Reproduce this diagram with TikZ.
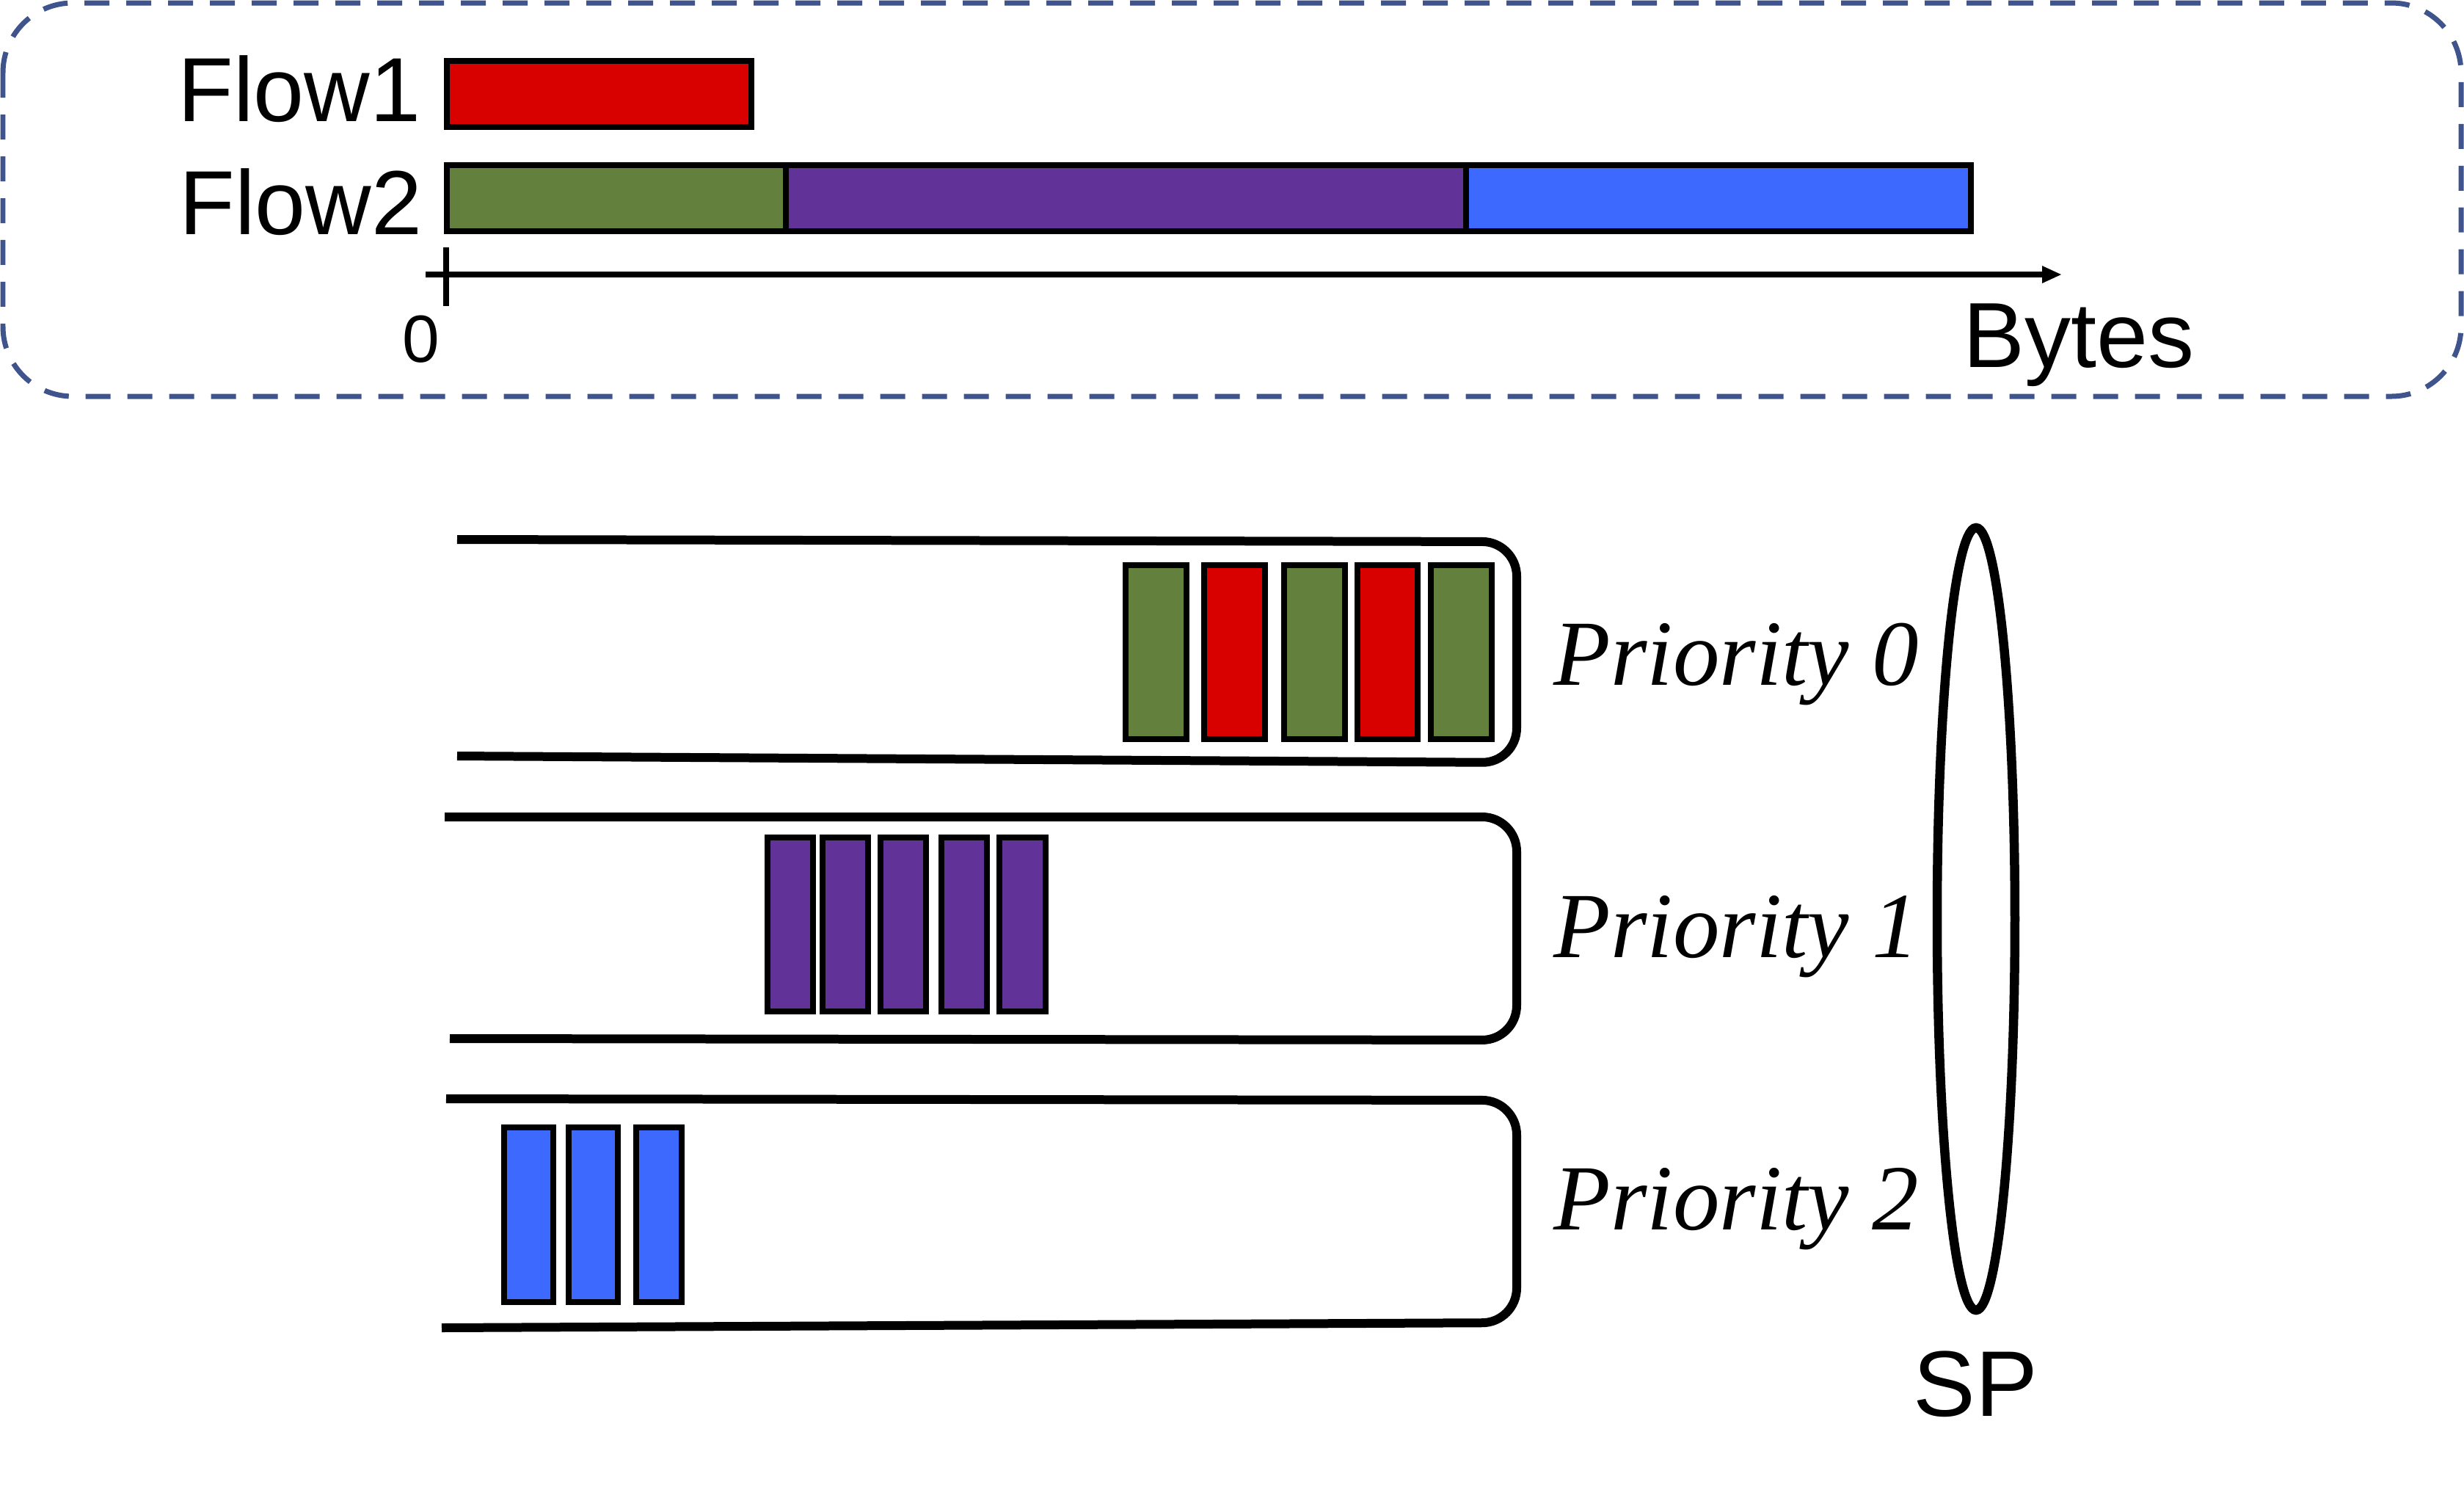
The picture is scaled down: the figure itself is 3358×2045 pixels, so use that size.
\documentclass[tikz,border=0pt]{standalone}
\usepackage{fontspec}
\setmainfont{Liberation Serif}
\setsansfont{Liberation Sans}

\tikzset{every picture/.style={line width=0.8pt}}
\tikzset{
	flowlabel/.style={inner sep=0pt, font=\sffamily\fontsize{12.4}{14}\selectfont},
	prioritylabel/.style={inner sep=0pt, anchor=base west, font=\itshape\fontsize{12.7}{14}\selectfont},
	framebox/.style={color={rgb, 255:red, 63; green, 83; blue, 140 }, line width=0.7pt, dash pattern=on 3.4pt off 2.3pt, rounded corners=9.5pt},
	queueline/.style={line width=1.2pt, rounded corners=4.7pt},
	redpkt/.style={fill={rgb, 255:red, 217; green, 0; blue, 0 }, fill opacity=1, line width=0.8pt},
	greenpkt/.style={fill={rgb, 255:red, 99; green, 129; blue, 61 }, fill opacity=1, line width=0.8pt},
	purplepkt/.style={fill={rgb, 255:red, 97; green, 51; blue, 153 }, fill opacity=1, line width=0.8pt},
	bluepkt/.style={fill={rgb, 255:red, 61; green, 105; blue, 255 }, fill opacity=1, line width=0.8pt}
}

\begin{document}
\begin{tikzpicture}[x=0.1pt,y=0.1pt,yscale=-1,xscale=1]
	\useasboundingbox (0,0) rectangle (3358,2045);

	%Rounded Rect [id:frame]
	\draw [framebox] (4,4) rectangle (3354,540) ;

	%Shape: Rectangle [id:flow1]
	\draw [redpkt] (609,83) -- (1024,83) -- (1024,173) -- (609,173) -- cycle ;
	%Shape: Rectangle [id:flow2a]
	\draw [greenpkt] (609,225) -- (1071,225) -- (1071,315) -- (609,315) -- cycle ;
	%Shape: Rectangle [id:flow2b]
	\draw [purplepkt] (1071,225) -- (1998,225) -- (1998,315) -- (1071,315) -- cycle ;
	%Shape: Rectangle [id:flow2c]
	\draw [bluepkt] (1998,225) -- (2686,225) -- (2686,315) -- (1998,315) -- cycle ;

	%Straight Lines [id:axis]
	\coordinate (origin) at (580,374);
	\coordinate (axisend) at (2790,374);
	\draw [line width=0.75pt] (origin) -- (axisend) ;
	\draw [shift={(2809,374)}, rotate = 180] [fill={rgb, 255:red, 0; green, 0; blue, 0 }  ][line width=0.08]  [draw opacity=0] (26,-12) -- (0,0) -- (26,12) -- cycle    ;
	%Straight Lines [id:tick]
	\draw [line width=0.75pt] (608,337) -- (608,417) ;

	%Curve Lines [id:queue0]
	\draw [queueline] (623,735) -- (2067,738) -- (2067,1039) -- (623,1030) ;
	%Curve Lines [id:queue1]
	\draw [queueline] (606,1113) -- (2067,1113) -- (2067,1417) -- (613,1415) ;
	%Curve Lines [id:queue2]
	\draw [queueline] (608,1497) -- (2067,1499) -- (2067,1802) -- (602,1809) ;

	%Shape: Rectangle [id:q0p1]
	\draw [greenpkt] (1534,770) -- (1617,770) -- (1617,1007) -- (1534,1007) -- cycle ;
	%Shape: Rectangle [id:q0p2]
	\draw [redpkt] (1641,770) -- (1724,770) -- (1724,1007) -- (1641,1007) -- cycle ;
	%Shape: Rectangle [id:q0p3]
	\draw [greenpkt] (1750,770) -- (1833,770) -- (1833,1007) -- (1750,1007) -- cycle ;
	%Shape: Rectangle [id:q0p4]
	\draw [redpkt] (1850,770) -- (1932,770) -- (1932,1007) -- (1850,1007) -- cycle ;
	%Shape: Rectangle [id:q0p5]
	\draw [greenpkt] (1950,770) -- (2033,770) -- (2033,1007) -- (1950,1007) -- cycle ;

	%Shape: Rectangle [id:q1p1]
	\draw [purplepkt] (1046,1141) -- (1108,1141) -- (1108,1378) -- (1046,1378) -- cycle ;
	%Shape: Rectangle [id:q1p2]
	\draw [purplepkt] (1121,1141) -- (1183,1141) -- (1183,1378) -- (1121,1378) -- cycle ;
	%Shape: Rectangle [id:q1p3]
	\draw [purplepkt] (1200,1141) -- (1262,1141) -- (1262,1378) -- (1200,1378) -- cycle ;
	%Shape: Rectangle [id:q1p4]
	\draw [purplepkt] (1283,1141) -- (1345,1141) -- (1345,1378) -- (1283,1378) -- cycle ;
	%Shape: Rectangle [id:q1p5]
	\draw [purplepkt] (1362,1141) -- (1425,1141) -- (1425,1378) -- (1362,1378) -- cycle ;

	%Shape: Rectangle [id:q2p1]
	\draw [bluepkt] (687,1536) -- (754,1536) -- (754,1774) -- (687,1774) -- cycle ;
	%Shape: Rectangle [id:q2p2]
	\draw [bluepkt] (775,1536) -- (842,1536) -- (842,1774) -- (775,1774) -- cycle ;
	%Shape: Rectangle [id:q2p3]
	\draw [bluepkt] (867,1536) -- (929,1536) -- (929,1774) -- (867,1774) -- cycle ;

	%Shape: Ellipse [id:sp]
	\draw [line width=1.25pt] (2693,1252) ellipse [x radius=53, y radius=533] ;

	% Text Node
	\draw (408,121) node [flowlabel] (flow1) {Flow1};
	% Text Node
	\draw (410,275) node [flowlabel] (flow2) {Flow2};
	% Text Node
	\draw (574,462) node [inner sep=0pt, font=\sffamily\fontsize{9.1}{11}\selectfont] (zero) {0};
	% Text Node
	\draw (2833,500) node [inner sep=0pt, anchor=base, font=\sffamily\fontsize{12.6}{14}\selectfont] (bytes) {Bytes};
	% Text Node
	\draw (2114,933) node [prioritylabel] (prio0) {Priority 0};
	% Text Node
	\draw (2114,1304) node [prioritylabel] (prio1) {Priority 1};
	% Text Node
	\draw (2114,1675) node [prioritylabel] (prio2) {Priority 2};
	% Text Node
	\draw (2692,1886) node [inner sep=0pt, font=\sffamily\fontsize{12.7}{14}\selectfont] (splabel) {SP};

\end{tikzpicture}
\end{document}
